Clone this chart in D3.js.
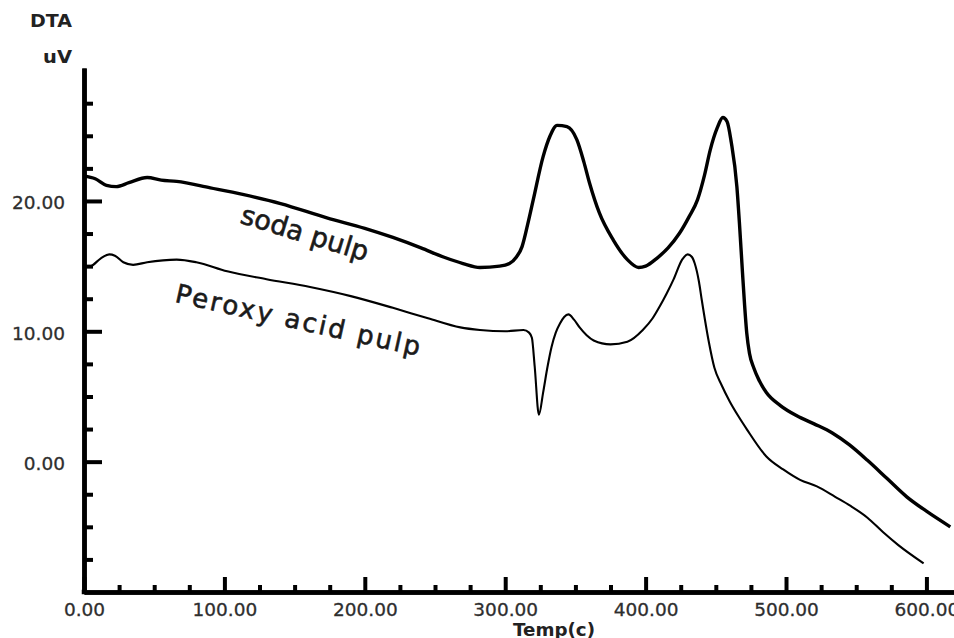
<!DOCTYPE html>
<html>
<head>
<meta charset="utf-8">
<script src="https://cdn.jsdelivr.net/npm/d3@7"></script>
<style>
body { margin:0; background:#fff; }
svg text { font-family: "DejaVu Sans", Verdana, sans-serif; }
</style>
</head>
<body>
<svg id="chart" width="954" height="638"></svg>
<script>
// temperature (c), DTA (uV)
var soda_temp = [0, 8, 16, 23, 32, 45, 55, 66, 90, 113, 140, 173, 200, 220, 240, 256, 270, 282, 296, 303, 308, 312, 316, 320, 327, 332, 337, 344, 351, 356, 360, 367, 377, 387, 395, 400, 408, 416, 424, 431, 437, 442, 446, 451, 455, 458, 461, 465, 467, 469, 470.5, 472, 474, 477, 481, 486, 496, 508, 520, 533, 545, 558, 572, 586, 600, 617];
var soda_dta  = [21.9, 21.7, 21.2, 21.1, 21.4, 21.8, 21.6, 21.5, 21.0, 20.5, 19.8, 18.7, 17.9, 17.2, 16.4, 15.7, 15.2, 14.9, 15.0, 15.2, 15.7, 16.5, 18.2, 20.1, 23.4, 25.0, 25.8, 25.7, 24.7, 23.0, 21.4, 19.1, 17.0, 15.5, 14.9, 15.0, 15.6, 16.4, 17.5, 18.8, 20.1, 22.0, 23.9, 25.6, 26.4, 26.1, 24.5, 21.1, 18.0, 14.5, 12.0, 9.9, 8.3, 7.2, 6.2, 5.3, 4.3, 3.5, 2.9, 2.2, 1.3, 0.1, -1.3, -2.7, -3.8, -5.0];

var perox_temp = [0, 5, 12, 18, 22, 28, 35, 45, 66, 80, 102, 130, 161, 190, 220, 245, 268, 282, 300, 313, 317, 319, 321, 324, 327, 330, 333, 336, 339, 342, 345, 349, 353, 358, 363, 375, 387, 398, 405, 410, 415, 420, 426, 430, 433, 435, 438, 440, 445, 449, 454, 460, 466, 472, 486, 498, 510, 522, 535, 546, 558, 569, 580, 598];
var perox_dta  = [14.9, 15.0, 15.6, 15.9, 15.8, 15.3, 15.1, 15.3, 15.5, 15.3, 14.6, 14.0, 13.4, 12.7, 11.8, 11.0, 10.3, 10.1, 10.0, 10.1, 9.9, 9.5, 7.3, 3.6, 5.3, 7.2, 8.8, 9.9, 10.6, 11.1, 11.3, 10.9, 10.3, 9.7, 9.3, 9.0, 9.2, 10.1, 11.0, 11.9, 12.9, 14.0, 15.5, 15.9, 15.7, 15.2, 13.8, 12.4, 9.2, 7.2, 5.9, 4.6, 3.5, 2.5, 0.4, -0.6, -1.4, -1.9, -2.7, -3.4, -4.3, -5.4, -6.4, -7.8];

var x_major = [0, 100, 200, 300, 400, 500, 600];
var y_major = [0, 10, 20];
var y_minor = [-7.5, -5, -2.5, 2.5, 5, 7.5, 12.5, 15, 17.5, 22.5, 25, 27.5];

var svg = d3.select("#chart");

var x = d3.scaleLinear().domain([0, 620]).range([84, 954.5]);
var y = d3.scaleLinear().domain([-10, 30.2]).range([592, 68]);

var fmt = d3.format(".2f");

function x_minor_ticks() {
    var arr = [];
    for (var t = 25; t < 620; t += 25)
        if (t % 100 != 0) arr.push(t);
    return arr;
}

// y axis
var gy = svg.append("g").attr("transform", "translate(84,0)");
gy.call(d3.axisLeft(y).tickValues(y_major).tickFormat(fmt).tickSizeInner(-18).tickSizeOuter(0).tickPadding(19));
svg.append("g").attr("transform", "translate(84,0)")
    .call(d3.axisLeft(y).tickValues(y_minor).tickFormat("").tickSizeInner(-9).tickSizeOuter(0));

// x axis
var gx = svg.append("g").attr("transform", "translate(0,592)");
gx.call(d3.axisBottom(x).tickValues(x_major).tickFormat(fmt).tickSizeInner(-15).tickSizeOuter(0).tickPadding(11));
svg.append("g").attr("transform", "translate(0,592)")
    .call(d3.axisBottom(x).tickValues(x_minor_ticks()).tickFormat("").tickSizeInner(-7).tickSizeOuter(0));

svg.selectAll(".domain").attr("stroke", "#000").attr("stroke-width", 4.5);
svg.selectAll(".tick line").attr("stroke", "#000").attr("stroke-width", 4);
svg.selectAll(".tick text").attr("font-size", 18.5).attr("fill", "#2e2e2e")
    .attr("stroke", "#2e2e2e").attr("stroke-width", 0.3)
    .attr("font-family", "'DejaVu Sans', Verdana, sans-serif");
gy.selectAll(".tick text").attr("dy", "0.42em");

// corner so axes meet
svg.append("rect").attr("x", 81.75).attr("y", 589.75).attr("width", 4.5).attr("height", 4.5).attr("fill", "#000");

// curves
var line = d3.line()
    .x(function(d) { return x(d[0]); })
    .y(function(d) { return y(d[1]); })
    .curve(d3.curveMonotoneX);

svg.append("path")
    .datum(d3.zip(soda_temp, soda_dta))
    .attr("d", line)
    .attr("fill", "none")
    .attr("stroke", "#000")
    .attr("stroke-width", 3.4)
    .attr("stroke-linejoin", "round");

svg.append("path")
    .datum(d3.zip(perox_temp, perox_dta))
    .attr("d", line)
    .attr("fill", "none")
    .attr("stroke", "#000")
    .attr("stroke-width", 2.1)
    .attr("stroke-linejoin", "round");

// curve labels
svg.append("text")
    .attr("transform", "translate(305,233) rotate(17)")
    .attr("text-anchor", "middle")
    .attr("dy", "0.35em")
    .attr("font-size", 27)
    .attr("fill", "#1a1a1a")
    .attr("stroke", "#1a1a1a").attr("stroke-width", 0.6)
    .attr("textLength", 132)
    .attr("lengthAdjust", "spacing")
    .text("soda pulp");

svg.append("text")
    .attr("transform", "translate(298,320) rotate(12.5)")
    .attr("text-anchor", "middle")
    .attr("dy", "0.35em")
    .attr("font-size", 26)
    .attr("fill", "#1a1a1a")
    .attr("stroke", "#1a1a1a").attr("stroke-width", 0.6)
    .attr("textLength", 250)
    .attr("lengthAdjust", "spacing")
    .text("Peroxy acid pulp");

// axis titles
svg.append("text").attr("x", 30).attr("y", 27)
    .attr("font-size", 17).attr("font-weight", "bold").attr("fill", "#222")
    .attr("textLength", 42).attr("lengthAdjust", "spacingAndGlyphs")
    .text("DTA");
svg.append("text").attr("x", 43).attr("y", 63)
    .attr("font-size", 17).attr("font-weight", "bold").attr("fill", "#222")
    .attr("textLength", 29).attr("lengthAdjust", "spacingAndGlyphs")
    .text("uV");
svg.append("text").attr("x", 513).attr("y", 636)
    .attr("font-size", 17.5).attr("font-weight", "bold").attr("fill", "#222")
    .attr("textLength", 82).attr("lengthAdjust", "spacingAndGlyphs")
    .text("Temp(c)");
</script>
</body>
</html>
